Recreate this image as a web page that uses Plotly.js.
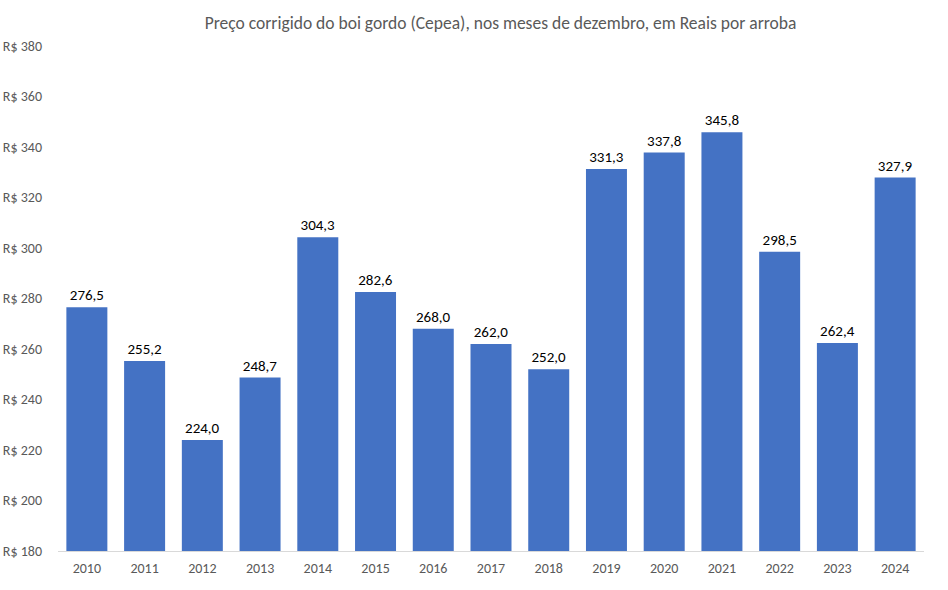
<!DOCTYPE html>
<html>
<head>
<meta charset="utf-8">
<script src="https://cdn.plot.ly/plotly-3.0.1.min.js"></script>
<style>html,body{margin:0;padding:0;background:#fff;}#chart{width:948px;height:590px;}</style>
</head>
<body>
<div id="chart"></div>
<script>
const years = ["2010","2011","2012","2013","2014","2015","2016","2017","2018","2019","2020","2021","2022","2023","2024"];
const prices = [276.5,255.2,224.0,248.7,304.3,282.6,268.0,262.0,252.0,331.3,337.8,345.8,298.5,262.4,327.9];
const yTicks = [180,200,220,240,260,280,300,320,340,360,380];
const titleText = "Preço corrigido do boi gordo (Cepea), nos meses de dezembro, em Reais por arroba";

const font = "Carlito, Calibri, 'Liberation Sans Narrow', 'Open Sans', sans-serif";

Plotly.newPlot('chart', [{
  type: 'bar',
  x: years,
  y: prices,
  marker: {color: '#4472C4'},
  width: 0.71,
  texttemplate: '%{y:.1f}',
  textposition: 'outside',
  cliponaxis: false,
  textfont: {family: font, size: 15, color: '#000000'},
  hoverinfo: 'x+y'
}], {
  width: 948, height: 590,
  separators: ',.',
  margin: {l: 58, r: 24, t: 46, b: 39},
  paper_bgcolor: '#ffffff', plot_bgcolor: '#ffffff',
  font: {family: font, size: 13, color: '#595959'},
  title: {text: titleText, x: 0.528, xanchor: 'center', y: 0.962, yanchor: 'middle', font: {family: font, size: 17.5, color: '#595959'}},
  showlegend: false,
  bargap: 0.29,
  xaxis: {
    type: 'category',
    showline: true, linecolor: '#d9d9d9', linewidth: 1,
    showgrid: false, ticks: '', zeroline: false,
    tickfont: {family: font, size: 14, color: '#595959'},
    ticklabelstandoff: 4
  },
  yaxis: {
    range: [180, 380],
    tickvals: yTicks,
    ticktext: yTicks.map(v => 'R$ ' + v),
    showgrid: false, zeroline: false, showline: false, ticks: '',
    tickfont: {family: font, size: 14, color: '#595959'},
    ticklabelstandoff: 15
  }
}, {displayModeBar: false, staticPlot: true});
</script>
</body>
</html>
